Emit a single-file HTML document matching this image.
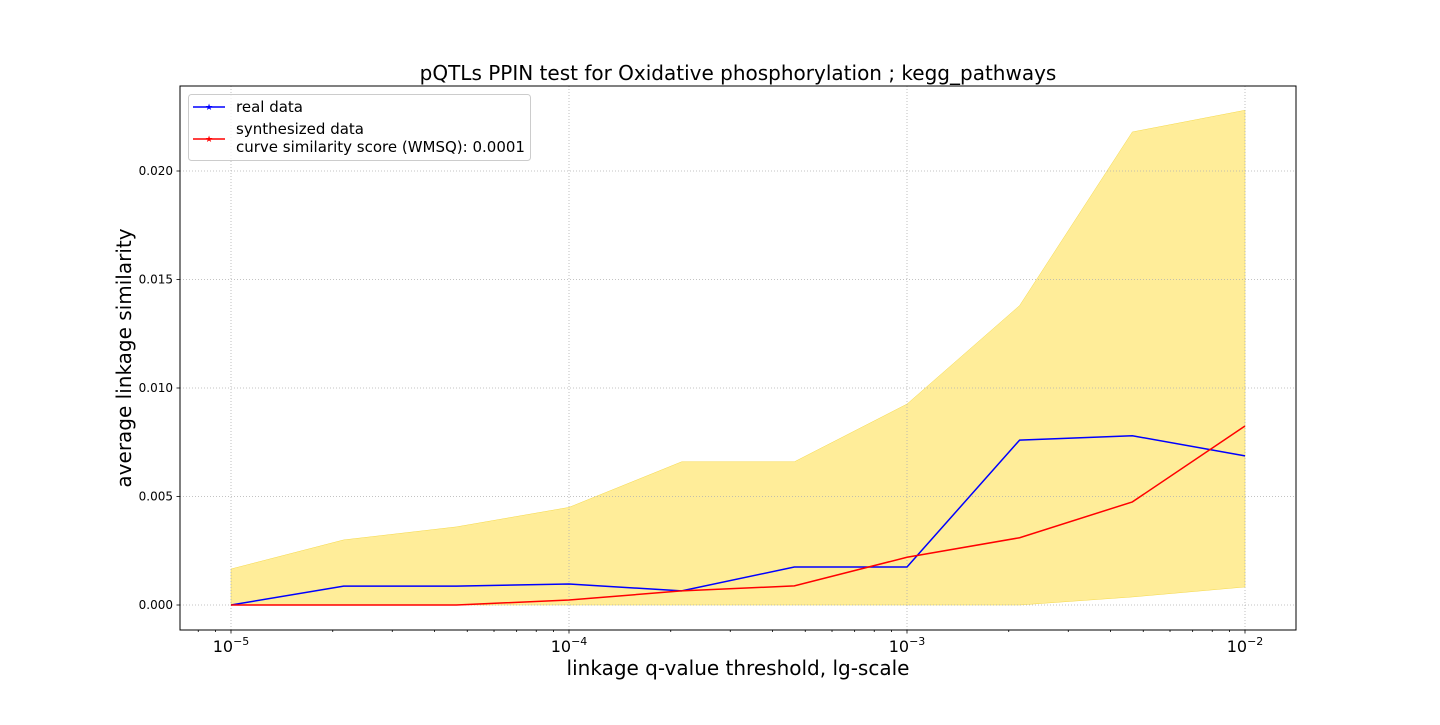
<!DOCTYPE html>
<html><head><meta charset="utf-8"><style>
html,body{margin:0;padding:0;background:#fff;}
svg text{font-family:"DejaVu Sans","Liberation Sans",sans-serif;}
</style></head><body>
<svg id="chart" width="1440" height="720" xmlns="http://www.w3.org/2000/svg"></svg>
<script>
const thresholds = [1e-5, 2.154e-5, 4.642e-5, 1e-4, 2.154e-4, 4.642e-4, 1e-3, 2.154e-3, 4.642e-3, 1e-2];
const realData = [0, 0.00087, 0.00087, 0.00097, 0.00065, 0.00175, 0.00175, 0.0076, 0.0078, 0.00687];
const synthData = [0, 0, 0, 0.00023, 0.00065, 0.00088, 0.0022, 0.0031, 0.00475, 0.00825];
const bandUpper = [0.00166, 0.0030, 0.0036, 0.0045, 0.0066, 0.0066, 0.00926, 0.0138, 0.0218, 0.0228];
const bandLower = [0, 0, 0, 0, 0, 0, 0, 0, 0.00037, 0.00083];
const yTicks = [0, 0.005, 0.010, 0.015, 0.020];
const yTickLabels = ["0.000", "0.005", "0.010", "0.015", "0.020"];
const xMajor = [-5, -4, -3, -2];

const NS = "http://www.w3.org/2000/svg";
const svg = document.getElementById('chart');
const L = 180, R = 1296, T = 86, B = 630;
function xs(v){ return 231 + (Math.log10(v) + 5) * 338; }
function ys(v){ return 605 - v / 0.005 * 108.5; }
function mk(tag, attrs, parent){ const e = document.createElementNS(NS, tag); for (const k in attrs) e.setAttribute(k, attrs[k]); (parent || svg).appendChild(e); return e; }

// band
let pts = thresholds.map((t,i)=>xs(t)+','+ys(bandUpper[i]));
for (let i = thresholds.length-1; i >= 0; i--) pts.push(xs(thresholds[i])+','+ys(bandLower[i]));
const band = mk('polygon', {points: pts.join(' '), fill: '#ffe97f', 'fill-opacity': '0.8', stroke: '#f5d94a', 'stroke-width': '0.5'});



// grid
xMajor.forEach(p => {
  const g = mk('line', {x1: xs(Math.pow(10,p)), x2: xs(Math.pow(10,p)), y1: T, y2: B, stroke: '#b0b0b0', 'stroke-width': 0.8, 'stroke-dasharray': '1,2'});
  
  
});
yTicks.forEach(v => {
  const g = mk('line', {x1: L, x2: R, y1: ys(v), y2: ys(v), stroke: '#b0b0b0', 'stroke-width': 0.8, 'stroke-dasharray': '1,2'});
  
  
});

// lines
function line(data, color, name){
  const p = mk('polyline', {points: thresholds.map((t,i)=>xs(t)+','+ys(data[i])).join(' '), fill: 'none', stroke: color, 'stroke-width': 1.5});
  
  
}
line(realData, '#0000ff', 'real-data-line');
line(synthData, '#ff0000', 'synthesized-data-line');

// frame
const fr = mk('rect', {x: L, y: T, width: R-L, height: B-T, fill: 'none', stroke: '#000', 'stroke-width': 1});



// x ticks
for (let p = -6; p <= -2; p++) {
  for (let m = 1; m < 10; m++) {
    const v = m * Math.pow(10, p); const x = xs(v);
    if (x < L || x > R) continue;
    mk('line', {x1: x, x2: x, y1: B, y2: B + (m === 1 ? 3.5 : 2), stroke: '#000', 'stroke-width': 0.8});
  }
}
xMajor.forEach(p => {
  const t = mk('text', {x: xs(Math.pow(10,p)), y: 652, 'font-size': 16, 'text-anchor': 'middle'});
  t.innerHTML = '10<tspan dy="-7" font-size="11">\u2212' + (-p) + '</tspan>';
  
  
});
// y ticks
yTicks.forEach((v,i) => {
  mk('line', {x1: L-3.5, x2: L, y1: ys(v), y2: ys(v), stroke: '#000', 'stroke-width': 0.8});
  const t = mk('text', {x: L-7, y: ys(v)+4, 'font-size': 12, 'text-anchor': 'end'});
  t.textContent = yTickLabels[i];
  
  
});

// titles
let t = mk('text', {x: 738, y: 80, 'font-size': 20, 'text-anchor': 'middle'});
t.textContent = 'pQTLs PPIN test for Oxidative phosphorylation ; kegg_pathways';
 
t = mk('text', {x: 738, y: 675, 'font-size': 20, 'text-anchor': 'middle'});
t.textContent = 'linkage q-value threshold, lg-scale';
 
t = mk('text', {x: 131, y: 358, 'font-size': 20, 'text-anchor': 'middle', transform: 'rotate(-90 131 358)'});
t.textContent = 'average linkage similarity';
 

// legend
const lg = mk('g', {});
 
mk('rect', {x: 188.5, y: 94.5, width: 342, height: 66, rx: 3, fill: '#fff', 'fill-opacity': 0.8, stroke: '#ccc'}, lg);
function entry(y, color, labels, ty, name){
  const g = mk('g', {}, lg);
   
  mk('line', {x1: 193, x2: 225, y1: y, y2: y, stroke: color, 'stroke-width': 1.5}, g);
  mk('text', {x: 209, y: y+3, 'font-size': 9, fill: color, 'text-anchor': 'middle'}, g).textContent = '\u2605';
  labels.forEach((s,i)=>{ mk('text', {x: 236, y: ty + i*18, 'font-size': 15}, g).textContent = s; });
}
entry(107, '#0000ff', ['real data'], 112, 'legend-entry-real');
entry(139, '#ff0000', ['synthesized data', 'curve similarity score (WMSQ): 0.0001'], 134, 'legend-entry-synthesized');
</script>
</body></html>
